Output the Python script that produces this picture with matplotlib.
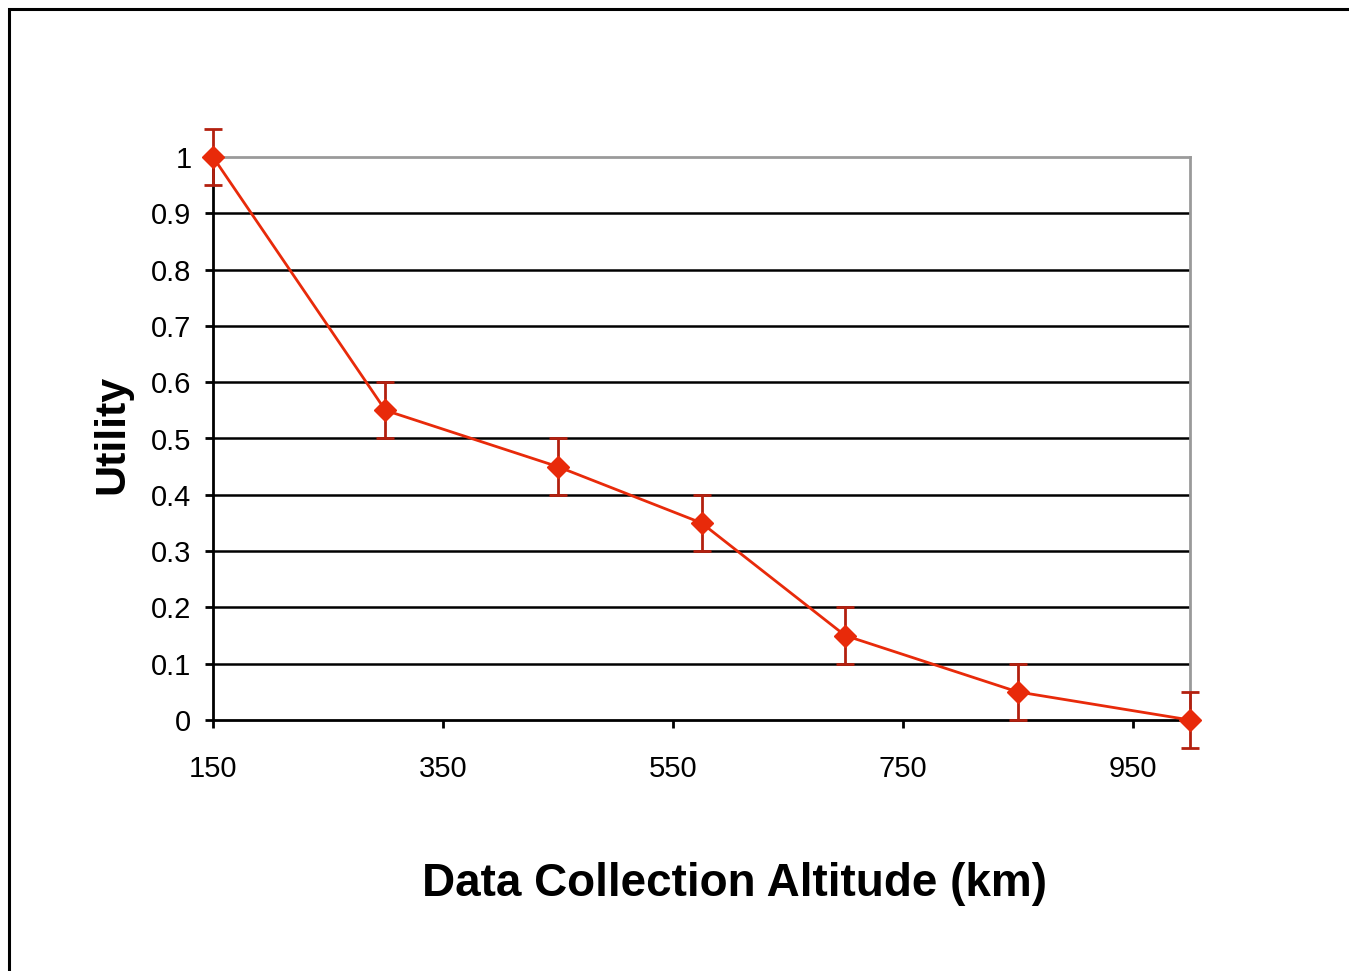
import matplotlib
matplotlib.use("Agg")
import matplotlib.pyplot as plt
from matplotlib.patches import Rectangle

altitude = [150, 300, 450, 575, 700, 850, 1000]
utility = [1.0, 0.55, 0.45, 0.35, 0.15, 0.05, 0.0]
err = [0.05, 0.05, 0.05, 0.05, 0.05, 0.05, 0.05]
xticks = [150, 350, 550, 750, 950]
yticks = [0, 0.1, 0.2, 0.3, 0.4, 0.5, 0.6, 0.7, 0.8, 0.9, 1]
ytick_labels = ["0", "0.1", "0.2", "0.3", "0.4", "0.5", "0.6", "0.7", "0.8", "0.9", "1"]

plt.rcParams['font.family'] = ['Liberation Sans', 'DejaVu Sans']

W, H = 1349, 971
fig = plt.figure(figsize=(W / 100, H / 100), dpi=100)
fig.patches.append(Rectangle((9 / W, -0.05), 1.2, 1 - 9 / H + 0.05, transform=fig.transFigure,
                             fill=False, edgecolor='black', linewidth=2.2))

ax = fig.add_axes([213 / W, 1 - 720 / H, (1190 - 213) / W, (720 - 157) / H])
ax.set_xlim(150, 1000)
ax.set_ylim(0, 1)

for y in yticks[1:-1]:
    ax.axhline(y, color='black', lw=1.8, zorder=1.1)

ax.errorbar(altitude, utility, yerr=err, fmt='none', ecolor='#b3200f', elinewidth=2,
            capsize=6.5, capthick=2, zorder=3, clip_on=False)
ax.plot(altitude, utility, color='#e82a0a', lw=2, marker='D', markersize=11,
        markerfacecolor='#e82a0a', markeredgecolor='#e82a0a', zorder=4, clip_on=False)

for s in ['top', 'right']:
    ax.spines[s].set_color('#9a9a9a')
    ax.spines[s].set_linewidth(2)
for s in ['left', 'bottom']:
    ax.spines[s].set_color('black')
    ax.spines[s].set_linewidth(2)

ax.set_xticks(xticks)
ax.set_xticklabels([str(v) for v in xticks])
ax.set_yticks(yticks)
ax.set_yticklabels(ytick_labels)
ax.tick_params(axis='x', direction='out', length=6, width=2, labelsize=21, pad=19.5)
ax.tick_params(axis='y', direction='out', length=6, width=2, labelsize=21, pad=9.5)

ax.set_xlabel('Data Collection Altitude (km)', fontsize=33, fontweight='bold')
ax.xaxis.set_label_coords(0.534, -0.252)
ax.set_ylabel('Utility', fontsize=31, fontweight='bold')
ax.yaxis.set_label_coords(-0.083, 0.508)

fig.savefig('out.png', dpi=100)
